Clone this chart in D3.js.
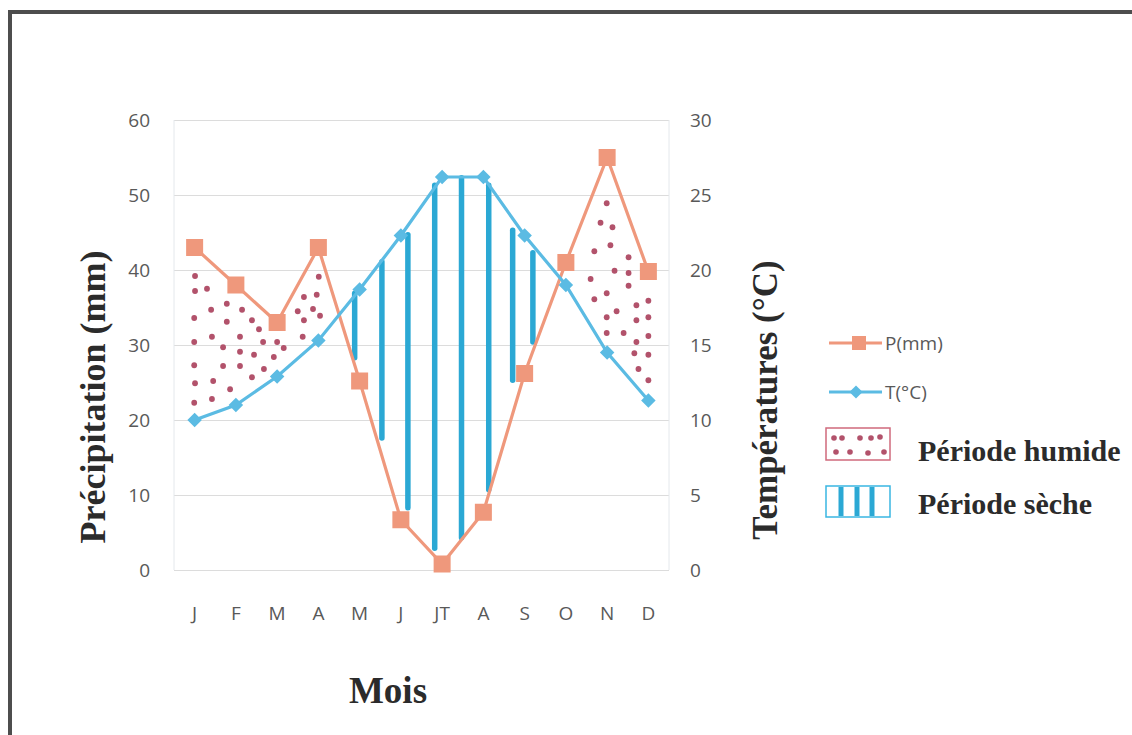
<!DOCTYPE html>
<html>
<head>
<meta charset="utf-8">
<script src="https://cdn.jsdelivr.net/npm/d3@7"></script>
<style>
  html, body { margin: 0; padding: 0; background: #fff; }
  svg { display: block; }
</style>
</head>
<body>
<svg id="chart" width="1132" height="735"></svg>
<script>
// Diagramme ombrothermique : précipitations (mm) et températures (°C) par mois
const months = ["J", "F", "M", "A", "M", "J", "JT", "A", "S", "O", "N", "D"];
const precipitation = [43, 38, 33, 43, 25.2, 6.7, 0.8, 7.7, 26.2, 41, 55, 39.8];
const temperature = [10, 11, 12.9, 15.3, 18.7, 22.3, 26.2, 26.2, 22.3, 19, 14.5, 11.3];
const pTicks = [0, 10, 20, 30, 40, 50, 60];
const tTicks = [0, 5, 10, 15, 20, 25, 30];

// Hachures de la période sèche : position (indice de mois) et extrémités (mm)
const dryX = [3.88, 4.54, 5.17, 5.82, 6.47, 7.13, 7.71, 8.20];
const dryTop = [36.9, 41.1, 44.7, 51.3, 52.3, 51.3, 45.3, 42.3];
const dryBottom = [28.3, 17.6, 8.3, 2.9, 4.3, 10.7, 25.3, 30.4];

// Pointillés de la période humide : position (indice de mois) et hauteur (mm)
const wetX = [
  0.01, 0.01, 0.30, 0.78, 0.40, 1.15, -0.01, 0.78, 1.39, 1.56, 0.42, 1.10, -0.01, 0.69, 1.66,
  2.00, 2.16, 1.10, 1.44, 1.92, -0.01, 0.69, 1.10, 1.68, 1.39, 0.45, 0.01, 0.86, 0.42, -0.01,
  3.01, 2.65, 2.96, 2.50, 2.87, 2.65, 3.04, 2.62,
  9.99, 9.84, 10.13, 10.08, 9.69, 10.52, 10.18, 10.52, 9.60, 10.52, 9.99, 9.69, 11.00, 10.71,
  10.23, 11.00, 9.99, 10.71, 9.99, 10.40, 11.00, 10.71, 10.66, 11.00, 10.76, 11.00
];
const wetY = [
  39.2, 37.2, 37.5, 35.5, 34.7, 34.7, 33.6, 33.1, 33.3, 32.1, 31.1, 31.1, 30.4, 29.7, 30.4,
  30.4, 29.6, 29.1, 28.7, 28.4, 27.3, 27.2, 27.2, 26.8, 25.7, 25.2, 24.9, 24.1, 22.8, 22.3,
  39.1, 36.4, 36.7, 34.5, 34.8, 33.3, 33.9, 31.1,
  48.9, 46.3, 45.7, 43.3, 42.5, 41.7, 39.9, 39.6, 38.8, 37.9, 36.9, 36.1, 35.9, 35.3,
  34.5, 33.7, 33.7, 33.3, 31.6, 31.6, 31.2, 30.4, 28.9, 28.7, 26.8, 25.3
];

const colP = "#ef987c";
const colT = "#5bbbe3";
const colDry = "#2ba8d4";
const colWet = "#b2526b";
const colText = "#595959";
const sans = "'Open Sans', sans-serif";
const serif = "'Liberation Serif', 'Times New Roman', serif";

const svg = d3.select("#chart");

// Cadre extérieur
svg.append("rect")
  .attr("x", 10).attr("y", 12).attr("width", 1140).attr("height", 740)
  .attr("fill", "none").attr("stroke", "#4d4d4d").attr("stroke-width", 4);

const plot = { left: 174, right: 669, top: 120, bottom: 570 };

const x = d3.scaleBand().domain(d3.range(months.length)).range([plot.left, plot.right]);
const cx = i => x(i) + x.bandwidth() / 2;
const xi = d3.scaleLinear().domain([0, months.length - 1]).range([cx(0), cx(months.length - 1)]);
const yP = d3.scaleLinear().domain([0, 60]).range([plot.bottom, plot.top]);
const yT = d3.scaleLinear().domain([0, 30]).range([plot.bottom, plot.top]);

// Grille horizontale
const grid = svg.append("g")
  .attr("transform", `translate(${plot.left},0)`)
  .call(d3.axisLeft(yP).tickValues(pTicks).tickSize(-(plot.right - plot.left)).tickFormat(""));
grid.select(".domain").remove();
grid.selectAll(".tick line").attr("stroke", "#dcdcdc").attr("stroke-width", 1);

// Bords verticaux de la zone de tracé
svg.append("g").selectAll("line").data([plot.left, plot.right]).join("line")
  .attr("x1", d => d).attr("x2", d => d)
  .attr("y1", plot.top).attr("y2", plot.bottom)
  .attr("stroke", "#e4e8ec").attr("stroke-width", 1);

// Axe gauche (mm)
const axL = svg.append("g")
  .attr("transform", `translate(${plot.left - 24},0)`)
  .call(d3.axisLeft(yP).tickValues(pTicks).tickSize(0).tickPadding(0));
axL.select(".domain").remove();
axL.selectAll("text").attr("font-family", sans).attr("font-size", 19).attr("fill", colText);

// Axe droit (°C)
const axR = svg.append("g")
  .attr("transform", `translate(${plot.right + 21},0)`)
  .call(d3.axisRight(yT).tickValues(tTicks).tickSize(0).tickPadding(0));
axR.select(".domain").remove();
axR.selectAll("text").attr("font-family", sans).attr("font-size", 19).attr("fill", colText);

// Axe des mois
const axB = svg.append("g")
  .attr("transform", `translate(0,${plot.bottom + 36})`)
  .call(d3.axisBottom(x).tickFormat(i => months[i]).tickSize(0).tickPadding(0));
axB.select(".domain").remove();
axB.selectAll("text").attr("font-family", sans).attr("font-size", 19).attr("fill", colText);

// Titres des axes
svg.append("text")
  .attr("transform", `translate(105,397) rotate(-90)`)
  .attr("text-anchor", "middle")
  .attr("font-family", serif).attr("font-weight", "bold").attr("font-size", 36)
  .attr("fill", "#2b2b2b")
  .text("Précipitation (mm)");

svg.append("text")
  .attr("transform", `translate(777,400) rotate(-90)`)
  .attr("text-anchor", "middle")
  .attr("font-family", serif).attr("font-weight", "bold").attr("font-size", 35)
  .attr("fill", "#2b2b2b")
  .text("Températures (°C)");

svg.append("text")
  .attr("x", 388).attr("y", 703)
  .attr("text-anchor", "middle")
  .attr("font-family", serif).attr("font-weight", "bold").attr("font-size", 37)
  .attr("fill", "#2b2b2b")
  .text("Mois");

// Période humide : pointillés
svg.append("g").selectAll("circle").data(d3.range(wetX.length)).join("circle")
  .attr("cx", i => xi(wetX[i])).attr("cy", i => yP(wetY[i]))
  .attr("r", 2.9).attr("fill", colWet);

// Période sèche : hachures verticales
svg.append("g").selectAll("line").data(d3.range(dryX.length)).join("line")
  .attr("x1", i => xi(dryX[i])).attr("x2", i => xi(dryX[i]))
  .attr("y1", i => yP(dryTop[i])).attr("y2", i => yP(dryBottom[i]))
  .attr("stroke", colDry).attr("stroke-width", 5.5).attr("stroke-linecap", "round");

// Courbe des précipitations
svg.append("path")
  .datum(precipitation)
  .attr("fill", "none").attr("stroke", colP).attr("stroke-width", 3.2)
  .attr("d", d3.line().x((d, i) => cx(i)).y(d => yP(d)));

svg.append("g").selectAll("rect").data(precipitation).join("rect")
  .attr("x", (d, i) => cx(i) - 8.5).attr("y", d => yP(d) - 8.5)
  .attr("width", 17).attr("height", 17).attr("fill", colP);

// Courbe des températures
svg.append("path")
  .datum(temperature)
  .attr("fill", "none").attr("stroke", colT).attr("stroke-width", 3.2)
  .attr("d", d3.line().x((d, i) => cx(i)).y(d => yT(d)));

const diamond = d3.symbol().type(d3.symbolDiamond2).size(135);
svg.append("g").selectAll("path").data(temperature).join("path")
  .attr("transform", (d, i) => `translate(${cx(i)},${yT(d)})`)
  .attr("d", diamond).attr("fill", colT);

// Légende
const leg = svg.append("g");
leg.append("line").attr("x1", 829).attr("x2", 882).attr("y1", 343).attr("y2", 343)
  .attr("stroke", colP).attr("stroke-width", 3);
leg.append("rect").attr("x", 852).attr("y", 336).attr("width", 14).attr("height", 14).attr("fill", colP);
leg.append("text").attr("x", 885).attr("y", 350)
  .attr("font-family", sans).attr("font-size", 19).attr("fill", colText).text("P(mm)");

leg.append("line").attr("x1", 829).attr("x2", 882).attr("y1", 392).attr("y2", 392)
  .attr("stroke", colT).attr("stroke-width", 3);
leg.append("path").attr("transform", "translate(856,392)")
  .attr("d", d3.symbol().type(d3.symbolDiamond2).size(110)).attr("fill", colT);
leg.append("text").attr("x", 885).attr("y", 399)
  .attr("font-family", sans).attr("font-size", 19).attr("fill", colText).text("T(°C)");

// Légende période humide
leg.append("rect").attr("x", 826).attr("y", 428).attr("width", 64).attr("height", 32)
  .attr("fill", "none").attr("stroke", "#d06a7c").attr("stroke-width", 1.5);
const legDotX = [834, 842, 860, 871, 880, 836, 850, 868, 884];
const legDotY = [438, 438, 438, 438, 437, 452, 452, 453, 452];
leg.append("g").selectAll("circle").data(d3.range(legDotX.length)).join("circle")
  .attr("cx", i => legDotX[i]).attr("cy", i => legDotY[i]).attr("r", 2.8).attr("fill", colWet);
leg.append("text").attr("x", 918).attr("y", 461)
  .attr("font-family", serif).attr("font-weight", "bold").attr("font-size", 30)
  .attr("fill", "#2b2b2b").text("Période humide");

// Légende période sèche
leg.append("rect").attr("x", 826).attr("y", 486).attr("width", 64).attr("height", 31)
  .attr("fill", "none").attr("stroke", "#3ab6e2").attr("stroke-width", 1.5);
leg.append("g").selectAll("line").data([841, 857, 872]).join("line")
  .attr("x1", d => d).attr("x2", d => d).attr("y1", 487).attr("y2", 516)
  .attr("stroke", colDry).attr("stroke-width", 5);
leg.append("text").attr("x", 918).attr("y", 514)
  .attr("font-family", serif).attr("font-weight", "bold").attr("font-size", 30)
  .attr("fill", "#2b2b2b").text("Période sèche");
</script>
</body>
</html>
